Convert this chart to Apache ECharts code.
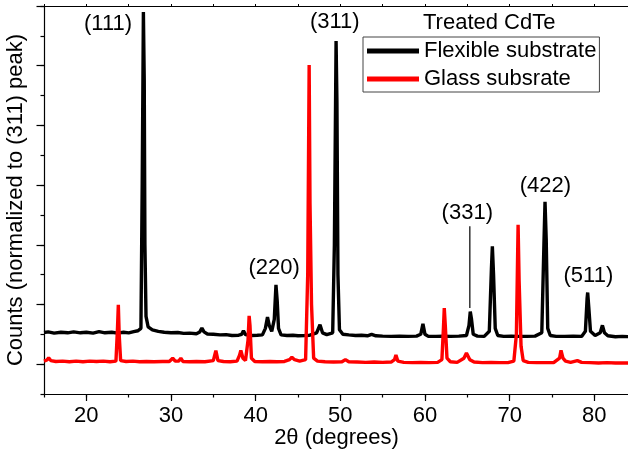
<!DOCTYPE html>
<html>
<head>
<meta charset="utf-8">
<script src="https://cdn.jsdelivr.net/npm/echarts@6/dist/echarts.min.js"></script>
<style>
  html, body { margin: 0; padding: 0; background: #fff; }
  #chart { width: 628px; height: 454px; }
</style>
</head>
<body>
<div id="chart"></div>
<script>
// ---- data (2-theta in degrees, normalized counts) ----
const flexibleSeries = [
  [15,1.06],[15.5,1.08],[16.2,1.04],[17,1.07],[17.8,1.05],[18.5,1.08],[19.3,1.05],[20,1.07],
  [20.8,1.04],[21.5,1.09],[22.2,1.05],[23,1.07],[23.7,1.04],[24.4,1.07],[25,1.05],[25.6,1.09],
  [26.1,1.12],[26.45,1.2],[26.6,6],[26.74,11.8],[26.84,9.5],[26.92,4],[27.05,1.6],[27.3,1.25],
  [27.8,1.15],[28.5,1.1],[29.2,1.07],[30,1.05],[30.8,1.06],[31.5,1.03],[32.2,1.04],[33,1.02],
  [33.4,1.08],[33.65,1.21],[33.9,1.08],[34.3,1.01],[35,1.0],[35.8,0.98],[36.5,0.99],[37.2,0.96],
  [38,0.97],[38.35,1.0],[38.56,1.12],[38.8,0.99],[39.5,0.96],[40.2,0.97],[40.8,0.98],[41.15,1.2],
  [41.4,1.58],[41.6,1.3],[41.9,1.1],[42.2,1.5],[42.4,2.66],[42.55,2.1],[42.7,1.2],[43,0.98],
  [43.7,0.96],[44.4,0.97],[45,0.95],[45.8,0.96],[46.4,0.97],[47.2,1.05],[47.6,1.32],[47.9,1.05],
  [48.4,0.99],[49.1,1.05],[49.3,4],[49.5,10.83],[49.6,8.8],[49.72,3],[49.9,1.15],[50.3,1.0],
  [51,0.98],[51.8,0.96],[52.5,0.97],[53.2,0.95],[53.7,1.0],[54.2,0.95],[55,0.94],[56,0.93],
  [57,0.94],[58,0.93],[59,0.94],[59.5,1.0],[59.76,1.35],[60,1.0],[60.4,0.93],[61.3,0.93],
  [62.2,0.94],[63,0.93],[64,0.94],[64.9,0.96],[65.2,1.3],[65.35,1.76],[65.5,1.5],[65.7,1.0],
  [66.2,0.94],[67,0.93],[67.6,1.1],[67.85,3.2],[67.96,3.95],[68.1,3.0],[68.3,1.2],[68.6,0.96],
  [69.3,0.93],[70.2,0.94],[71,0.93],[72,0.93],[73,0.94],[73.8,1.05],[74.05,4],[74.18,5.44],
  [74.32,4.2],[74.5,1.2],[74.8,0.96],[75.5,0.93],[76.5,0.93],[77.5,0.94],[78.5,0.93],[78.95,1.1],
  [79.15,2.2],[79.22,2.4],[79.35,1.9],[79.55,1.1],[80.1,0.96],[80.7,1.05],[80.96,1.3],[81.2,1.05],
  [81.6,0.95],[82.5,0.92],[83.3,0.93],[84.1,0.92]
];
const glassSeries = [
  [15,0.1],[15.35,0.14],[15.55,0.21],[15.8,0.12],[16.4,0.09],[17.2,0.1],[18,0.08],[18.8,0.1],
  [19.6,0.08],[20.4,0.1],[21.2,0.09],[22,0.1],[22.8,0.08],[23.5,0.1],[23.68,1.2],[23.78,1.99],
  [23.88,1.0],[24.05,0.12],[24.7,0.09],[25.5,0.1],[26.3,0.08],[27.1,0.09],[28,0.08],[29,0.09],
  [29.8,0.09],[30.2,0.2],[30.5,0.1],[30.9,0.1],[31.16,0.2],[31.4,0.09],[32.2,0.08],[33,0.09],
  [34,0.08],[35,0.12],[35.3,0.45],[35.55,0.12],[36.2,0.09],[37,0.08],[37.8,0.1],[38.1,0.3],
  [38.25,0.46],[38.5,0.2],[38.8,0.12],[39.1,0.8],[39.23,1.62],[39.33,1.3],[39.5,0.2],[39.9,0.09],
  [40.8,0.08],[41.7,0.09],[42.5,0.08],[43.4,0.09],[44.0,0.15],[44.28,0.23],[44.6,0.15],[45.2,0.1],
  [45.9,0.15],[46.15,3],[46.32,10.02],[46.42,5.4],[46.6,2],[46.85,0.2],[47.3,0.1],[48.2,0.08],
  [49.2,0.07],[50.2,0.08],[50.6,0.15],[51,0.08],[52,0.07],[53,0.06],[54,0.07],[55,0.06],
  [56,0.07],[56.4,0.15],[56.57,0.31],[56.8,0.1],[57.5,0.06],[58.5,0.05],[59.5,0.06],[60.5,0.05],
  [61.5,0.06],[62,0.15],[62.18,1.2],[62.28,1.88],[62.4,1.3],[62.6,0.2],[63,0.08],[63.8,0.06],
  [64.6,0.2],[64.9,0.37],[65.3,0.15],[65.8,0.07],[66.8,0.05],[67.8,0.06],[68.8,0.05],[69.8,0.05],
  [70.5,0.1],[70.8,1.0],[71.0,4.67],[71.12,2.8],[71.35,0.6],[71.6,0.12],[72.2,0.06],[73.2,0.05],
  [74.2,0.05],[75.2,0.05],[75.9,0.2],[76.07,0.46],[76.3,0.2],[76.6,0.1],[77.2,0.06],[78,0.12],
  [78.5,0.06],[79.5,0.05],[80.5,0.04],[81.5,0.05],[82.5,0.04],[83.5,0.04],[84.1,0.04]
];
const seriesNames = ['Flexible substrate', 'Glass subsrate'];
const legendTitle = 'Treated CdTe';
const peakLabels = ['(111)', '(311)', '(220)', '(331)', '(422)', '(511)'];
const peakLabelX = [22.57, 49.35, 42.19, 65.0, 74.22, 79.3];
const peakLabelY = [11.4, 11.45, 3.22, 5.08, 5.98, 2.94];
const leaderLine331 = [[65.3, 4.62], [65.3, 1.88]];
const xTickLabels = [20, 30, 40, 50, 60, 70, 80];
const yMajorTicks = [0, 2, 4, 6, 8, 10, 12];
const xName = '2θ (degrees)';
const yName = 'Counts (normalized to (311) peak)';

const FONT = '"Liberation Sans", Arial, sans-serif';
const chart = echarts.init(document.getElementById('chart'), null, { renderer: 'canvas' });
const axisLineStyle = { color: '#000', width: 1.2 };

const option = {
  animation: false,
  textStyle: { fontFamily: FONT, color: '#000' },
  grid: { left: 44, right: -1, top: 6, bottom: 60, containLabel: false, outerBoundsMode: 'none' },
  title: {
    text: legendTitle, left: 423, top: 12, padding: 0,
    textStyle: { fontFamily: FONT, fontSize: 22, fontWeight: 'normal', color: '#000' }
  },
  legend: {
    data: seriesNames.map(n => ({ name: n, icon: 'rect' })), orient: 'vertical', left: 363, top: 37,
    padding: [3, 3, 2, 4], itemGap: 6, itemWidth: 52, itemHeight: 5,
    borderColor: '#444', borderWidth: 1, selectedMode: false,
    textStyle: { fontFamily: FONT, fontSize: 22, color: '#000' }
  },
  xAxis: [
    {
      type: 'value', min: 15, max: 84.1, interval: 5, position: 'bottom',
      axisLine: { show: true, onZero: false, lineStyle: axisLineStyle },
      axisTick: { show: true, length: 3.5, inside: false, lineStyle: { color: '#000', width: 1.2 } },
      axisLabel: { show: false }, splitLine: { show: false },
      name: xName, nameLocation: 'middle', nameGap: 33,
      nameTextStyle: { fontFamily: FONT, fontSize: 22, color: '#000' }
    },
    {
      type: 'value', min: 15, max: 84.1, position: 'bottom',
      axisLine: { show: false, onZero: false },
      axisTick: { show: true, length: 7, customValues: xTickLabels, lineStyle: { color: '#000', width: 1.2 } },
      axisLabel: { show: true, customValues: xTickLabels, fontFamily: FONT, fontSize: 22, color: '#000', margin: 11 },
      splitLine: { show: false }
    },
    {
      type: 'value', min: 15, max: 84.1, interval: 5, position: 'top',
      axisLine: { show: true, onZero: false, lineStyle: axisLineStyle },
      axisTick: { show: true, length: 2, lineStyle: { color: '#000', width: 1 } },
      axisLabel: { show: false }, splitLine: { show: false }
    }
  ],
  yAxis: [
    {
      type: 'value', min: -1, max: 12, interval: 1, position: 'left',
      axisLine: { show: true, onZero: false, lineStyle: axisLineStyle },
      axisTick: { show: true, length: 3.5, lineStyle: { color: '#000', width: 1.2 } },
      axisLabel: { show: false }, splitLine: { show: false },
      name: yName, nameLocation: 'middle', nameGap: 17, nameRotate: 90,
      nameTextStyle: { fontFamily: FONT, fontSize: 22, color: '#000' }
    },
    {
      type: 'value', min: -1, max: 12, position: 'left', offset: 0,
      axisLine: { show: false, onZero: false },
      axisTick: { show: true, length: 7.5, customValues: yMajorTicks, lineStyle: { color: '#000', width: 1.2 } },
      axisLabel: { show: false }, splitLine: { show: false }
    }
  ],
  series: [
    {
      name: seriesNames[0], type: 'line', data: flexibleSeries, showSymbol: false, symbol: 'none',
      lineStyle: { color: '#000', width: 3.4 }, itemStyle: { color: '#000' },
      xAxisIndex: 0, yAxisIndex: 0, z: 2,
      markPoint: {
        symbol: 'rect', symbolSize: 1, itemStyle: { color: 'rgba(0,0,0,0)' },
        label: { show: true, position: 'inside', fontFamily: FONT, fontSize: 22, color: '#000',
                 formatter: p => p.name },
        data: peakLabels.map((t, i) => ({ name: t, coord: [peakLabelX[i], peakLabelY[i]] }))
      }
    },
    {
      name: 'leader', type: 'line', data: leaderLine331, showSymbol: false, symbol: 'none',
      lineStyle: { color: '#000', width: 1.2 }, xAxisIndex: 0, yAxisIndex: 0, z: 3
    },
    {
      name: seriesNames[1], type: 'line', data: glassSeries, showSymbol: false, symbol: 'none',
      lineStyle: { color: '#ff0000', width: 3.4 }, itemStyle: { color: '#ff0000' },
      xAxisIndex: 0, yAxisIndex: 0, z: 4
    }
  ]
};
chart.setOption(option);
</script>
</body>
</html>
